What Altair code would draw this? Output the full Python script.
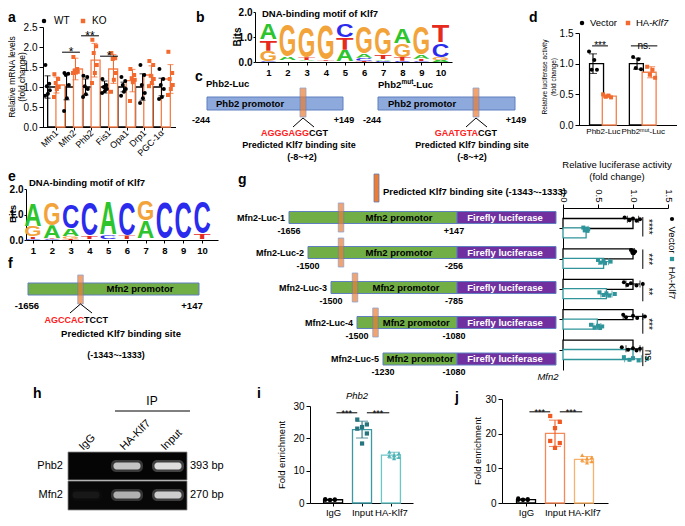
import json
from urllib.parse import quote
import altair as alt
import pandas as pd

W, H = 669, 510
OFF = 8
FONT = "Liberation Sans"


def P(v):
    return v - OFF


# ======================= DATA =======================
# --- a: relative mRNA levels ---
a_genes = ["Mfn1", "Mfn2", "Phb2", "Fis1", "Opa1", "Drp1", "PGC-1α"]
a_wt_mean = [1.00, 1.00, 1.00, 1.00, 1.00, 1.00, 1.00]
a_wt_sd = [0.28, 0.32, 0.20, 0.15, 0.12, 0.33, 0.22]
a_ko_mean = [1.05, 1.45, 1.67, 1.45, 1.16, 1.30, 1.20]
a_ko_sd = [0.20, 0.27, 0.42, 0.36, 0.28, 0.23, 0.36]
a_wt_pts = [
    [1.55, 1.08, 1.02, 0.92, 0.83, 0.78],
    [1.35, 1.33, 1.30, 1.05, 0.72, 0.40],
    [1.28, 1.25, 1.02, 0.95, 0.82, 0.75],
    [1.20, 1.05, 1.00, 0.95, 0.90, 0.85],
    [1.25, 1.15, 1.05, 0.95, 0.88, 0.78],
    [1.55, 1.30, 1.05, 0.85, 0.72, 0.60],
    [1.45, 1.20, 1.05, 0.95, 0.75, 0.70],
]
a_ko_pts = [
    [1.32, 1.20, 1.10, 1.00, 0.95, 0.75],
    [1.75, 1.45, 1.40, 1.38, 1.36, 1.35],
    [2.18, 2.02, 1.85, 1.55, 1.35, 1.10],
    [1.85, 1.72, 1.70, 1.35, 1.18, 0.88],
    [1.45, 1.30, 1.22, 1.18, 1.12, 0.65],
    [1.65, 1.55, 1.28, 1.20, 1.10, 1.02],
    [1.88, 1.35, 1.20, 1.05, 0.95, 0.80],
]
a_sig_gene = ["Mfn2", "Phb2", "Fis1"]
a_sig_y = [1.87, 2.28, 1.77]
a_sig_lab = ["*", "**", "*"]

# --- b / e: sequence logos (bits per letter, positions 1..10) ---
b_A = [0.67, 0.16, 0.05, 0.03, 0.47, 0.18, 0.06, 0.63, 0.15, 0.08]
b_C = [0.03, 0.02, 0.02, 0.02, 0.53, 0.12, 0.05, 0.05, 0.03, 0.57]
b_G = [0.42, 1.33, 1.30, 1.44, 0.02, 1.10, 1.10, 0.53, 1.16, 0.12]
b_T = [0.45, 0.04, 0.12, 0.06, 0.51, 0.05, 0.18, 0.15, 0.10, 0.72]
e_A = [0.92, 0.52, 0.30, 0.02, 1.36, 0.02, 0.70, 0.02, 0.02, 0.02]
e_C = [0.03, 0.03, 0.95, 1.38, 0.15, 1.36, 0.03, 1.48, 1.48, 1.29]
e_G = [0.42, 0.90, 0.10, 0.02, 0.02, 0.02, 0.79, 0.02, 0.02, 0.02]
e_T = [0.10, 0.03, 0.05, 0.12, 0.02, 0.14, 0.02, 0.02, 0.02, 0.20]

# --- c: Phb2 promoter constructs ---
c_start, c_end = -244, 149
c_site = (-8, 2)

# --- d: Phb2 luciferase ---
d_groups = ["Phb2-Luc", "Phb2ᵐᵘᵗ-Luc"]
d_vec_mean = [1.00, 1.00]
d_vec_sd = [0.16, 0.09]
d_ha_mean = [0.47, 0.86]
d_ha_sd = [0.02, 0.09]
d_vec_pts = [[1.20, 1.06, 0.90, 0.90], [1.11, 1.07, 0.93, 0.91]]
d_ha_pts = [[0.50, 0.48, 0.46, 0.45], [0.95, 0.90, 0.82, 0.77]]
d_sig_lab = ["***", "ns."]
d_sig_y = [1.29, 1.29]

# --- f / g: Mfn2 promoter constructs ---
f_start, f_end = -1656, 147
mfn2_site = (-1343, -1333)
g_names = ["Mfn2-Luc-1", "Mfn2-Luc-2", "Mfn2-Luc-3", "Mfn2-Luc-4", "Mfn2-Luc-5"]
g_start = [-1656, -1500, -1500, -1500, -1230]
g_end = [147, -256, -785, -1080, -1080]
g_end_lab = ["+147", "-256", "-785", "-1080", "-1080"]
g_has_site = [True, True, True, True, False]
g_vec_mean = [1.00, 1.00, 1.00, 1.00, 1.00]
g_vec_sd = [0.08, 0.02, 0.10, 0.14, 0.10]
g_ha_mean = [0.33, 0.58, 0.62, 0.49, 1.00]
g_ha_sd = [0.03, 0.07, 0.08, 0.05, 0.12]
g_vec_pts = [[0.88, 0.95, 1.00, 1.05, 1.10], [0.97, 0.99, 1.00, 1.01, 1.03],
             [0.87, 0.92, 0.97, 1.05, 1.14], [0.86, 0.90, 1.00, 1.06, 1.17],
             [0.84, 0.93, 1.00, 1.05, 1.10]]
g_ha_pts = [[0.29, 0.31, 0.33, 0.35, 0.36], [0.50, 0.54, 0.58, 0.60, 0.68],
            [0.52, 0.58, 0.62, 0.66, 0.74], [0.40, 0.45, 0.50, 0.53, 0.56],
            [0.87, 0.95, 1.00, 1.08, 1.20]]
g_sig_lab = ["****", "***", "**", "***", "ns."]

# --- h: ChIP-PCR gel ---
h_lanes = ["IgG", "HA-Klf7", "Input"]
h_genes = ["Phb2", "Mfn2"]
h_sizes = ["393 bp", "270 bp"]
h_phb2_band = [0.00, 0.80, 0.95]
h_mfn2_band = [0.06, 0.70, 0.85]

# --- i / j: ChIP-qPCR fold enrichment ---
ij_groups = ["IgG", "Input", "HA-Klf7"]
i_mean = [1.0, 22.7, 14.8]
i_sd = [0.15, 2.6, 0.9]
i_pts = [[1.2, 1.1, 1.0, 0.95, 0.9, 0.85], [25.8, 24.3, 23.5, 23.0, 21.5, 18.4],
         [15.8, 15.3, 14.8, 14.6, 14.2, 13.8]]
j_mean = [1.0, 20.1, 12.6]
j_sd = [0.2, 3.8, 0.8]
j_pts = [[1.3, 1.1, 1.0, 0.9, 0.85, 0.85], [25.1, 23.4, 21.6, 17.9, 17.3, 15.9],
         [13.8, 13.2, 12.8, 12.4, 12.0, 11.6]]
ij_sig_lab = ["***", "***"]

# ======================= STYLE =======================
BLACK = "#000000"
ORANGE = "#F26A2E"
ORANGE_BAR = "#F4804C"
TEAL = "#2F959B"
I_IN, I_IN_BAR = "#26747E", "#3C98A2"
I_HA, I_HA_BAR = "#4FB2B7", "#6CC6C8"
J_IN, J_IN_BAR = "#F05A22", "#F5895A"
J_HA, J_HA_BAR = "#F39A3E", "#F7B26E"
BLUE_FILL, BOXLINE = "#8EA9DB", "#5F7FBF"
GREEN, PURPLE, MARK = "#72AE46", "#7030A0", "#ED7D31"
LOGO_COL = {"A": "#2DC42D", "C": "#2B2BEE", "G": "#F2A33A", "T": "#E62A1E"}

L = []
one = pd.DataFrame({"k": [0]})


def S(domain, rng, **kw):
    return alt.Scale(domain=domain, range=[P(r) for r in rng], nice=False, zero=False, **kw)


AXBASE = dict(grid=False, domainColor="black", tickColor="black", labelColor="black",
              domainWidth=1, tickWidth=1, labelFont=FONT, title=None,
              labelOverlap=False, labelFlush=False)


def axis(orient, pos, values, size=10, tick=4, pad=2, fmt=None, bold=False, expr=None,
         angle=None, align=None, baseline=None, labels=True):
    if orient == "left":
        off = -P(pos)
    elif orient == "bottom":
        off = P(pos) - H
    else:
        off = -P(pos)
    kw = dict(AXBASE, orient=orient, offset=off, values=values, tickSize=tick,
              labelPadding=pad, labelFontSize=size, labels=labels)
    if fmt:
        kw["format"] = fmt
    if bold:
        kw["labelFontWeight"] = "bold"
    if expr:
        kw["labelExpr"] = expr
    if angle is not None:
        kw["labelAngle"] = angle
    if align:
        kw["labelAlign"] = align
    if baseline:
        kw["labelBaseline"] = baseline
    return alt.Axis(**kw)


def T(x, y, s, size=9, bold=False, align="center", baseline="middle", color=BLACK,
      angle=None, italic=False):
    kw = dict(text=s, fontSize=size, align=align, baseline=baseline, color=color)
    if bold:
        kw["fontWeight"] = "bold"
    if italic:
        kw["fontStyle"] = "italic"
    if angle is not None:
        kw["angle"] = angle
    L.append(alt.Chart(one).mark_text(**kw).encode(x=alt.value(P(x)), y=alt.value(P(y))))


def R(x1, y1, x2, y2, color=BLACK, w=1.0):
    L.append(alt.Chart(one).mark_rule(color=color, strokeWidth=w).encode(
        x=alt.value(P(x1)), y=alt.value(P(y1)), x2=alt.value(P(x2)), y2=alt.value(P(y2))))


def BOX(x1, y1, x2, y2, fill, stroke=None, w=1.0):
    kw = dict(fill=fill)
    if stroke:
        kw.update(stroke=stroke, strokeWidth=w)
    L.append(alt.Chart(one).mark_rect(**kw).encode(
        x=alt.value(P(x1)), x2=alt.value(P(x2)), y=alt.value(P(y1)), y2=alt.value(P(y2))))


def DOT(x, y, shape, color, size=22):
    L.append(alt.Chart(one).mark_point(filled=True, shape=shape, size=size, color=color,
                                       opacity=1).encode(x=alt.value(P(x)), y=alt.value(P(y))))


def vbars(xs, means, sds, bar_cols, pts, pt_cols, shapes, jit, xsc, ysc, bw, cap, psize,
          xax=None, yax=None, sw=1.3):
    df = pd.DataFrame({"x": xs, "m": means, "lo": [m - s for m, s in zip(means, sds)],
                       "hi": [m + s for m, s in zip(means, sds)], "c": bar_cols, "pc": pt_cols})
    L.append(alt.Chart(df).mark_bar(size=bw, orient="vertical", fill="white", strokeWidth=sw).encode(
        x=alt.X("x:Q", scale=xsc, axis=xax), y=alt.Y("m:Q", scale=ysc, axis=yax),
        y2=alt.datum(0), stroke=alt.Stroke("c:N", scale=None)))
    L.append(alt.Chart(df).mark_rule(strokeWidth=1.1).encode(
        x=alt.X("x:Q", scale=xsc, axis=None), y=alt.Y("lo:Q", scale=ysc, axis=None), y2="hi:Q",
        color=alt.Color("pc:N", scale=None)))
    for col in ("lo", "hi"):
        L.append(alt.Chart(df).mark_tick(orient="horizontal", size=cap, thickness=1.1).encode(
            x=alt.X("x:Q", scale=xsc, axis=None), y=alt.Y(col + ":Q", scale=ysc, axis=None),
            color=alt.Color("pc:N", scale=None)))
    rows = []
    for x, vals, c, s in zip(xs, pts, pt_cols, shapes):
        for k, v in enumerate(vals):
            rows.append({"x": x + jit[k % len(jit)], "v": v, "c": c, "s": s})
    dp = pd.DataFrame(rows)
    L.append(alt.Chart(dp).mark_point(filled=True, size=psize, opacity=1).encode(
        x=alt.X("x:Q", scale=xsc, axis=None), y=alt.Y("v:Q", scale=ysc, axis=None),
        color=alt.Color("c:N", scale=None), shape=alt.Shape("s:N", scale=None)))


def hbars(ys, means, sds, bar_cols, pts, pt_cols, shapes, jit, xsc, ysc, bw, cap, psize,
          xax=None, yax=None, sw=1.3):
    df = pd.DataFrame({"y": ys, "m": means, "lo": [m - s for m, s in zip(means, sds)],
                       "hi": [m + s for m, s in zip(means, sds)], "c": bar_cols, "pc": pt_cols})
    L.append(alt.Chart(df).mark_bar(size=bw, orient="horizontal", fill="white", strokeWidth=sw).encode(
        y=alt.Y("y:Q", scale=ysc, axis=yax), x=alt.X("m:Q", scale=xsc, axis=xax),
        x2=alt.datum(0), stroke=alt.Stroke("c:N", scale=None)))
    L.append(alt.Chart(df).mark_rule(strokeWidth=1.1).encode(
        y=alt.Y("y:Q", scale=ysc, axis=None), x=alt.X("lo:Q", scale=xsc, axis=None), x2="hi:Q",
        color=alt.Color("pc:N", scale=None)))
    for col in ("lo", "hi"):
        L.append(alt.Chart(df).mark_tick(orient="vertical", size=cap, thickness=1.1).encode(
            y=alt.Y("y:Q", scale=ysc, axis=None), x=alt.X(col + ":Q", scale=xsc, axis=None),
            color=alt.Color("pc:N", scale=None)))
    rows = []
    for y, vals, c, s in zip(ys, pts, pt_cols, shapes):
        for k, v in enumerate(vals):
            rows.append({"y": y + jit[k % len(jit)], "v": v, "c": c, "s": s})
    dp = pd.DataFrame(rows)
    L.append(alt.Chart(dp).mark_point(filled=True, size=psize, opacity=1).encode(
        y=alt.Y("y:Q", scale=ysc, axis=None), x=alt.X("v:Q", scale=xsc, axis=None),
        color=alt.Color("c:N", scale=None), shape=alt.Shape("s:N", scale=None)))


def sig_v(x1, x2, yv, labs, xsc, ysc, size=11, dy=3):
    df = pd.DataFrame({"x1": x1, "x2": x2, "y": yv, "t": labs,
                       "xm": [(a + b) / 2 for a, b in zip(x1, x2)]})
    L.append(alt.Chart(df).mark_rule(color=BLACK, strokeWidth=1).encode(
        x=alt.X("x1:Q", scale=xsc, axis=None), x2="x2:Q", y=alt.Y("y:Q", scale=ysc, axis=None)))
    L.append(alt.Chart(df).mark_text(fontSize=size, baseline="alphabetic", dy=dy, color=BLACK).encode(
        x=alt.X("xm:Q", scale=xsc, axis=None), y=alt.Y("y:Q", scale=ysc, axis=None), text="t:N"))


def letter_url(ch):
    svg = ("<svg xmlns='http://www.w3.org/2000/svg' width='100' height='100' viewBox='0 -2 100 104' "
           "preserveAspectRatio='none'><text x='50' y='100' text-anchor='middle' "
           "font-family='Liberation Sans, Arial, sans-serif' font-weight='bold' font-size='139' "
           f"textLength='98' lengthAdjust='spacingAndGlyphs' fill='{LOGO_COL[ch]}'>{ch}</text></svg>")
    return "data:image/svg+xml;charset=utf-8," + quote(svg)


def logo(A, C, G, Tt, xsc, ysc, xax, yax):
    rows = []
    for i in range(10):
        items = sorted([("A", A[i]), ("C", C[i]), ("G", G[i]), ("T", Tt[i])], key=lambda kv: kv[1])
        base = 0.0
        for ch, h in items:
            rows.append({"x0": i + 1 - 0.47, "x1": i + 1 + 0.47, "y0": base, "y1": base + h,
                         "url": letter_url(ch)})
            base += h
    df = pd.DataFrame(rows)
    L.append(alt.Chart(df).mark_image(aspect=False).encode(
        x=alt.X("x0:Q", scale=xsc, axis=xax), x2="x1:Q",
        y=alt.Y("y0:Q", scale=ysc, axis=yax), y2="y1:Q", url="url:N"))


# ======================= PANEL a =======================
T(8, 18, "a", 14, bold=True, align="left")
xa = S([-0.5, 6.5], [42.5, 175.5])
ya = S([0, 2.5], [127, 27])
a_expr = json.dumps(a_genes, ensure_ascii=False) + "[datum.value]"
jit6 = [-0.11, 0.09, -0.04, 0.12, 0.02, -0.13]
idx = list(range(7))
vbars([i - 0.235 for i in idx] + [i + 0.235 for i in idx],
      a_wt_mean + a_ko_mean, a_wt_sd + a_ko_sd,
      [BLACK] * 7 + [ORANGE_BAR] * 7, a_wt_pts + a_ko_pts, [BLACK] * 7 + [ORANGE] * 7,
      ["circle"] * 7 + ["square"] * 7, jit6, xa, ya, 9, 6, 16,
      xax=axis("bottom", 127, idx, size=9, tick=3, pad=1, expr=a_expr, angle=315,
               align="right", baseline="middle"),
      yax=axis("left", 43, [0, 0.5, 1, 1.5, 2, 2.5], size=10, tick=4, fmt=".1f"))
sx = [a_genes.index(g) for g in a_sig_gene]
sig_v([s - 0.47 for s in sx], [s + 0.47 for s in sx], a_sig_y, a_sig_lab, xa, ya, 12, 4)
T(12, 77, "Relative mRNA levels", 8.5, angle=270)
T(21.5, 77, "(fold change)", 8.5, angle=270)
DOT(44, 21, "circle", BLACK, 20)
T(54, 21, "WT", 10, align="left")
DOT(83, 21, "square", ORANGE, 20)
T(92, 21, "KO", 10, align="left")

# ======================= PANEL b =======================
T(196, 18, "b", 14, bold=True, align="left")
T(262, 14, "DNA-binding motif of Klf7", 9.5, bold=True, align="left")
xb = S([0.3, 10.6], [255, 452])
yb = S([0, 2], [62, 12])
logo(b_A, b_C, b_G, b_T, xb, yb,
     axis("bottom", 62, list(range(1, 11)), size=9.5, tick=3, pad=2, bold=True),
     axis("left", 255, [0, 1, 2], size=10, tick=2, pad=1, bold=True))
T(238, 37, "Bits", 10, bold=True, angle=270)

# ======================= PANEL c =======================
T(195, 77, "c", 14, bold=True, align="left")


def phb2_diagram(rng, x_left_text, site_px):
    sc = S([c_start, (c_site[0] + c_site[1]) / 2, c_end], rng)
    d = pd.DataFrame({"s": [c_start], "e": [c_end], "m": [(c_site[0] + c_site[1]) / 2],
                      "sl": [str(c_start)], "el": ["+%d" % c_end]})
    L.append(alt.Chart(d).mark_rect(fill=BLUE_FILL, stroke=BOXLINE, strokeWidth=1).encode(
        x=alt.X("s:Q", scale=sc, axis=None), x2="e:Q", y=alt.value(P(97)), y2=alt.value(P(110))))
    T(x_left_text, 104, "Phb2 promotor", 9.5, bold=True, align="left")
    L.append(alt.Chart(d).mark_tick(orient="vertical", size=29, thickness=6, color=MARK,
                                    stroke=BOXLINE, strokeWidth=0.8).encode(
        x=alt.X("m:Q", scale=sc, axis=None), y=alt.value(P(102.5))))
    L.append(alt.Chart(d).mark_text(fontSize=9, fontWeight="bold", dx=-6).encode(
        x=alt.X("s:Q", scale=sc, axis=None), y=alt.value(P(120)), text="sl:N"))
    L.append(alt.Chart(d).mark_text(fontSize=9, fontWeight="bold", dx=1).encode(
        x=alt.X("e:Q", scale=sc, axis=None), y=alt.value(P(120)), text="el:N"))
    R(site_px, 118, site_px - 10, 127)
    R(site_px, 118, site_px + 11, 127)


phb2_diagram([207, 303, 343], 216, 303)
T(206, 84, "Phb2-Luc", 9.5, bold=True, align="left")
T(309, 133, "AGGGAGG", 9, bold=True, align="right", color="#FF2020")
T(309, 133, "CGT", 9, bold=True, align="left")
T(299, 145, "Predicted Klf7 binding site", 9, bold=True)
T(302, 157, "(-8~+2)", 9, bold=True)

phb2_diagram([378, 476, 515], 388, 476)
T(378, 85, "Phb2", 9.5, bold=True, align="left")
T(401.5, 82, "mut", 6.5, bold=True, align="left")
T(413, 85, "-Luc", 9.5, bold=True, align="left")
T(478, 133, "GAATGTA", 9, bold=True, align="right", color="#FF2020")
T(478, 133, "CGT", 9, bold=True, align="left")
T(472, 145, "Predicted Klf7 binding site", 9, bold=True)
T(472, 157, "(-8~+2)", 9, bold=True)

# ======================= PANEL d =======================
T(529, 18, "d", 14, bold=True, align="left")
xd = S([-0.5, 1.86], [578, 682])
yd = S([0, 1.5], [125, 33])
d_expr = json.dumps(d_groups, ensure_ascii=False) + "[datum.value]"
jit4 = [-0.09, 0.03, -0.03, 0.09]
vbars([-0.16, 0.84, 0.16, 1.16], d_vec_mean + d_ha_mean, d_vec_sd + d_ha_sd,
      [BLACK, BLACK, ORANGE_BAR, ORANGE_BAR], d_vec_pts + d_ha_pts,
      [BLACK, BLACK, ORANGE, ORANGE], ["circle", "circle", "square", "square"], jit4,
      xd, yd, 14, 8, 16,
      xax=axis("bottom", 125, [0, 1], size=8, tick=0, pad=2, expr=d_expr),
      yax=axis("left", 579, [0, 0.5, 1, 1.5], size=10, tick=4, fmt=".1f"))
sig_v([-0.18, 0.7], [0.18, 1.3], d_sig_y, d_sig_lab, xd, yd, 10, 3)
T(545, 77, "Relative luciferase activity", 6.5, angle=270)
T(553.5, 77, "(fold change)", 6.5, angle=270)
DOT(582, 23, "circle", BLACK, 20)
T(590, 23, "Vector", 9.5, align="left")
DOT(628, 23, "square", ORANGE, 20)
T(636, 23, "HA-", 9.5, align="left")
T(652, 23, "Klf7", 9.5, align="left", italic=True)

# ======================= PANEL e =======================
T(8, 177, "e", 14, bold=True, align="left")
T(29, 183, "DNA-binding motif of Klf7", 9.5, bold=True, align="left")
xe = S([0.627, 10.85], [26, 218])
ye = S([0, 2], [240, 189])
logo(e_A, e_C, e_G, e_T, xe, ye,
     axis("bottom", 240, list(range(1, 11)), size=9.5, tick=3, pad=2, bold=True),
     axis("left", 26, [0, 1, 2], size=10, tick=2, pad=1, bold=True))
T(12.5, 214, "Bits", 9.5, bold=True, angle=270)

# ======================= PANEL f =======================
T(8, 264, "f", 14, bold=True, align="left")
f_mid = (mfn2_site[0] + mfn2_site[1]) / 2
xf = S([f_start, f_mid, f_end], [28, 80.5, 199])
df_f = pd.DataFrame({"s": [f_start], "e": [f_end], "m": [f_mid], "sl": [str(f_start)],
                     "el": ["+%d" % f_end]})
L.append(alt.Chart(df_f).mark_rect(fill=GREEN, stroke=BOXLINE, strokeWidth=1).encode(
    x=alt.X("s:Q", scale=xf, axis=None), x2="e:Q", y=alt.value(P(283)), y2=alt.value(P(295))))
T(140, 289, "Mfn2 promotor", 9.5, bold=True)
L.append(alt.Chart(df_f).mark_tick(orient="vertical", size=29, thickness=5.5, color=MARK,
                                   stroke=BOXLINE, strokeWidth=0.8).encode(
    x=alt.X("m:Q", scale=xf, axis=None), y=alt.value(P(289.5))))
L.append(alt.Chart(df_f).mark_text(fontSize=9.5, fontWeight="bold", dx=-1).encode(
    x=alt.X("s:Q", scale=xf, axis=None), y=alt.value(P(306)), text="sl:N"))
L.append(alt.Chart(df_f).mark_text(fontSize=9.5, fontWeight="bold", dx=-7).encode(
    x=alt.X("e:Q", scale=xf, axis=None), y=alt.value(P(306)), text="el:N"))
R(80.5, 304, 70, 313)
R(80.5, 304, 92, 313)
T(84, 320, "AGCCAC", 9, bold=True, align="right", color="#FF2020")
T(84, 320, "TCCT", 9, bold=True, align="left")
T(121, 334, "Predicted Klf7 binding site", 9.5, bold=True)
T(116, 355, "(-1343~-1333)", 9, bold=True)

# ======================= PANEL g (diagrams) =======================
T(238, 180, "g", 14, bold=True, align="left")
G_ROW_Y = [217.5, 252.5, 287.5, 322.5, 359]
G_LEFT = [289, 308, 331, 357, 383]
G_SITE = [341, 341, 355, 375.5, None]
G_RIGHT, G_LUC_END = 457, 556
BOX(374, 174, 379, 202, MARK, BOXLINE, 0.8)
T(383, 192, "Predicted Klf7 binding site (-1343~-1333)", 9.5, bold=True, align="left")
site_mid = (mfn2_site[0] + mfn2_site[1]) / 2
for i, name in enumerate(g_names):
    yc = G_ROW_Y[i]
    if g_has_site[i]:
        dom = [g_start[i], site_mid, g_end[i]]
        rng = [G_LEFT[i], G_SITE[i], G_RIGHT]
        tx = (site_mid + g_end[i]) / 2
    else:
        dom = [g_start[i], g_end[i]]
        rng = [G_LEFT[i], G_RIGHT]
        tx = (g_start[i] + g_end[i]) / 2
    sc = S(dom, rng)
    d = pd.DataFrame({"s": [g_start[i]], "e": [g_end[i]], "m": [site_mid], "tx": [tx],
                      "sl": [str(g_start[i])], "el": [g_end_lab[i]], "n": [name]})
    L.append(alt.Chart(d).mark_rect(fill=GREEN, stroke=BOXLINE, strokeWidth=1).encode(
        x=alt.X("s:Q", scale=sc, axis=None), x2="e:Q", y=alt.value(P(yc - 6)), y2=alt.value(P(yc + 6))))
    BOX(G_RIGHT, yc - 6, G_LUC_END, yc + 6, PURPLE, BOXLINE, 1)
    T(505, yc, "Firefly luciferase", 9.5, bold=True, color="white")
    L.append(alt.Chart(d).mark_text(fontSize=9.5, fontWeight="bold").encode(
        x=alt.X("tx:Q", scale=sc, axis=None), y=alt.value(P(yc)), text="n:N").transform_calculate(
        n="'Mfn2 promotor'"))
    if g_has_site[i]:
        L.append(alt.Chart(d).mark_tick(orient="vertical", size=29, thickness=5.5, color=MARK,
                                        stroke=BOXLINE, strokeWidth=0.8).encode(
            x=alt.X("m:Q", scale=sc, axis=None), y=alt.value(P(yc))))
    L.append(alt.Chart(d).mark_text(fontSize=9, fontWeight="bold", align="right", dx=-4).encode(
        x=alt.X("s:Q", scale=sc, axis=None), y=alt.value(P(yc)), text="n:N"))
    L.append(alt.Chart(d).mark_text(fontSize=9, fontWeight="bold").encode(
        x=alt.X("s:Q", scale=sc, axis=None), y=alt.value(P(yc + 13)), text="sl:N"))
    L.append(alt.Chart(d).mark_text(fontSize=9, fontWeight="bold", dx=-3).encode(
        x=alt.X("e:Q", scale=sc, axis=None), y=alt.value(P(yc + 13)), text="el:N"))

# ======================= PANEL g (bars, rotated) =======================
xg = S([0, 1.5], [563, 668])
yg = S([-0.5, 4.5], [208, 370])
gi = list(range(5))
jit5 = [-0.05, 0.03, -0.02, 0.05, 0.0]
hbars([i - 0.155 for i in gi] + [i + 0.155 for i in gi], g_vec_mean + g_ha_mean,
      g_vec_sd + g_ha_sd, [BLACK] * 5 + [TEAL] * 5, g_vec_pts + g_ha_pts,
      [BLACK] * 5 + [TEAL] * 5, ["circle"] * 5 + ["square"] * 5, jit5, xg, yg, 10, 7, 16,
      xax=axis("top", 208, [0, 0.5, 1, 1.5], size=9.5, tick=4, pad=2, fmt=".1f", angle=90,
               align="right", baseline="middle"),
      yax=axis("left", 563, gi, tick=4, labels=False))
dfs = pd.DataFrame({"y1": [i - 0.22 for i in gi], "y2": [i + 0.38 for i in gi],
                    "ym": [i + 0.08 for i in gi], "x": [1.14] * 5, "xt": [1.215] * 5, "t": g_sig_lab})
L.append(alt.Chart(dfs).mark_rule(color=BLACK).encode(
    x=alt.X("x:Q", scale=xg, axis=None), y=alt.Y("y1:Q", scale=yg, axis=None), y2="y2:Q"))
L.append(alt.Chart(dfs).mark_text(fontSize=10, angle=90).encode(
    x=alt.X("xt:Q", scale=xg, axis=None), y=alt.Y("ym:Q", scale=yg, axis=None), text="t:N"))
T(617, 165, "Relative luciferase activity", 9.5)
T(617, 177, "(fold change)", 9.5)
DOT(672, 219, "circle", BLACK, 18)
T(672, 240, "Vector", 9.5, angle=90)
DOT(672, 259, "square", TEAL, 18)
T(672, 283, "HA-Klf7", 9.5, angle=90)

# ======================= PANEL h (gel) =======================
T(33, 394, "h", 14, bold=True, align="left")
T(152, 401, "IP", 12)
R(115, 411, 190, 411)
BOX(68, 452, 187, 480, "#050505", "#8a8a8a", 0.8)
BOX(68, 481, 187, 510, "#080808", "#8a8a8a", 0.8)
lane_sc = alt.Scale(type="point", domain=h_lanes, range=[P(86), P(168)], padding=0)
gene_sc = alt.Scale(type="point", domain=h_genes, range=[P(466), P(495)], padding=0)
band_rows = []
for g, vals in zip(h_genes, [h_phb2_band, h_mfn2_band]):
    for lane, v in zip(h_lanes, vals):
        band_rows.append({"lane": lane, "gene": g, "v": v, "v2": v * 0.35})
dfb = pd.DataFrame(band_rows)
L.append(alt.Chart(dfb).mark_tick(orient="horizontal", size=32, thickness=12, cornerRadius=5,
                                  color="#bdbdbd").encode(
    x=alt.X("lane:N", scale=lane_sc, axis=None), y=alt.Y("gene:N", scale=gene_sc, axis=None),
    opacity=alt.Opacity("v2:Q", scale=None)))
L.append(alt.Chart(dfb).mark_tick(orient="horizontal", size=27, thickness=7, cornerRadius=3,
                                  color="#e6e6e6").encode(
    x=alt.X("lane:N", scale=lane_sc, axis=None), y=alt.Y("gene:N", scale=gene_sc, axis=None),
    opacity=alt.Opacity("v:Q", scale=None)))
dfl = pd.DataFrame({"lane": h_lanes})
L.append(alt.Chart(dfl).mark_text(fontSize=11, angle=315, align="left", baseline="alphabetic",
                                  dx=-4).encode(
    x=alt.X("lane:N", scale=lane_sc, axis=None), y=alt.value(P(448)), text="lane:N"))
dfg = pd.DataFrame({"gene": h_genes, "size": h_sizes})
L.append(alt.Chart(dfg).mark_text(fontSize=11, align="right").encode(
    x=alt.value(P(63)), y=alt.Y("gene:N", scale=gene_sc, axis=None), text="gene:N"))
L.append(alt.Chart(dfg).mark_text(fontSize=11, align="left").encode(
    x=alt.value(P(190)), y=alt.Y("gene:N", scale=gene_sc, axis=None), text="size:N"))

# ======================= PANEL i =======================
T(257, 394, "i", 14, bold=True, align="left")
T(357, 396, "Phb2", 9.5, italic=True)
xi = S([-0.625, 2.59], [310, 413])
yi = S([0, 30], [503, 406])
ij_expr = json.dumps(ij_groups, ensure_ascii=False) + "[datum.value]"
jit6b = [-0.15, 0.15, 0.0, -0.15, 0.15, 0.0]
vbars([0, 1, 2], i_mean, i_sd, [BLACK, I_IN_BAR, I_HA_BAR], i_pts, [BLACK, I_IN, I_HA],
      ["circle", "square", "triangle-up"], jit6b, xi, yi, 19, 12, 18,
      xax=axis("bottom", 503, [0, 1, 2], size=9.5, tick=3, pad=1, expr=ij_expr),
      yax=axis("left", 310, [0, 10, 20, 30], size=10, tick=4))
sig_v([0.2, 1.15], [0.85, 1.85], [27.9, 27.9], ij_sig_lab, xi, yi, 9, 3)
T(282, 455, "Fold enrichment", 9.5, angle=270)

# ======================= PANEL j =======================
T(455, 398, "j", 14, bold=True, align="left")
T(548, 377, "Mfn2", 9.5, italic=True)
xj = S([-0.656, 2.656], [502, 608])
yj = S([0, 30], [503, 399])
vbars([0, 1, 2], j_mean, j_sd, [BLACK, J_IN_BAR, J_HA_BAR], j_pts, [BLACK, J_IN, J_HA],
      ["circle", "square", "triangle-up"], jit6b, xj, yj, 19, 12, 18,
      xax=axis("bottom", 503, [0, 1, 2], size=9.5, tick=3, pad=1, expr=ij_expr),
      yax=axis("left", 502, [0, 10, 20, 30], size=10, tick=4))
sig_v([0.2, 1.15], [0.85, 1.85], [26.3, 26.3], ij_sig_lab, xj, yj, 9, 3)
T(478, 451, "Fold enrichment", 9.5, angle=270)

# ======================= ASSEMBLE =======================
chart = (
    alt.layer(*L)
    .resolve_scale(x="independent", y="independent")
    .resolve_axis(x="independent", y="independent")
    .properties(width=W, height=H, padding=0, autosize=alt.AutoSizeParams(type="none"))
    .configure(font=FONT)
    .configure_view(stroke=None)
)
chart.save("out.html", embed_options={"renderer": "svg", "actions": False})
